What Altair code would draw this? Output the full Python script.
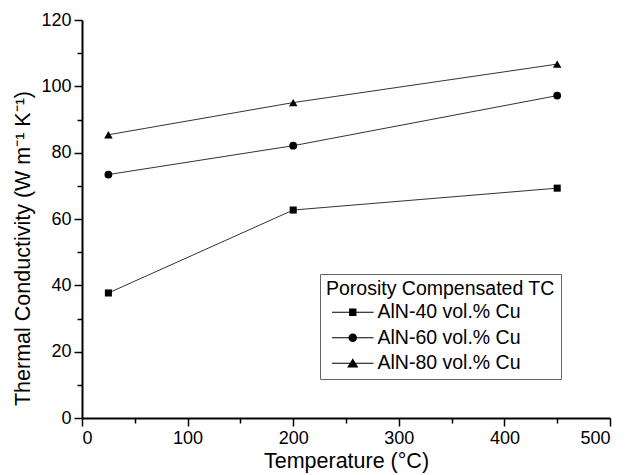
import altair as alt
import pandas as pd

temps = [25, 200, 450]
series = ["AlN-40 vol.% Cu", "AlN-60 vol.% Cu", "AlN-80 vol.% Cu"]
tc_40 = [37.7, 62.7, 69.3]
tc_60 = [73.4, 82.1, 97.2]
tc_80 = [85.4, 95.1, 106.7]

x_major = [0, 100, 200, 300, 400, 500]
x_minor = [50, 150, 250, 350, 450]
y_major = [0, 20, 40, 60, 80, 100, 120]
y_minor = [10, 30, 50, 70, 90, 110]

BAR = "M-2.6,-0.065H2.6V0.065H-2.6Z"
legend_paths = [
    BAR + "M-0.46,-0.46H0.46V0.46H-0.46Z",
    BAR + "M0.54,0A0.54,0.54,0,1,1,-0.54,0A0.54,0.54,0,1,1,0.54,0Z",
    BAR + "M0,-0.62L0.7,0.52H-0.7Z",
]

rows = []
for s, vals in zip(series, [tc_40, tc_60, tc_80]):
    for t, v in zip(temps, vals):
        rows.append({"T": t, "TC": v, "series": s})
df = pd.DataFrame(rows)

FONT = "Liberation Sans"
xscale = alt.Scale(domain=[0, 500], nice=False)
yscale = alt.Scale(domain=[0, 120], nice=False)

base = alt.Chart(df)

lines = base.mark_line(color="#333", strokeWidth=1).encode(
    x=alt.X("T:Q", scale=xscale, axis=alt.Axis(
        values=x_major, title="Temperature (°C)", orient="bottom",
        tickSize=8, labelPadding=3, titlePadding=3)),
    y=alt.Y("TC:Q", scale=yscale, axis=alt.Axis(
        values=y_major, title="Thermal Conductivity (W m⁻¹ K⁻¹)", orient="left",
        tickSize=8, labelPadding=3, titlePadding=6, titleY=228)),
    detail="series:N",
)

points = base.mark_point(filled=True, color="black", opacity=1).encode(
    x=alt.X("T:Q", scale=xscale, axis=alt.Axis(
        values=x_minor, orient="bottom", labels=False, domain=False,
        tickSize=5, title=None)),
    y=alt.Y("TC:Q", scale=yscale, axis=alt.Axis(
        values=y_minor, orient="left", labels=False, domain=False,
        tickSize=5, title=None)),
    shape=alt.Shape("series:N", scale=alt.Scale(domain=series, range=["square", "circle", "triangle-up"]), legend=None),
    size=alt.Size("series:N", scale=alt.Scale(domain=series, range=[50, 72, 110]), legend=None),
)

legend_layer = base.mark_point(filled=True, size=0, fill="black", stroke="black", strokeWidth=0).encode(
    x=alt.X("T:Q", scale=xscale, axis=None),
    y=alt.Y("TC:Q", scale=yscale, axis=None),
    shape=alt.Shape("series:N", scale=alt.Scale(domain=series, range=legend_paths),
                    legend=alt.Legend(
                        title="Porosity Compensated TC", orient="none",
                        legendX=238, legendY=254, strokeColor="#666", fillColor="white",
                        padding=6, titleFontSize=19.5, titleFontWeight="normal",
                        titleColor="black", titleFont=FONT, titlePadding=3, titleLimit=400,
                        labelFontSize=19.5, labelColor="black", labelFont=FONT, labelLimit=400,
                        symbolSize=256, symbolOffset=17, labelOffset=15, rowPadding=4.5,
                        symbolStrokeWidth=0, symbolFillColor="black",
                        symbolOpacity=1)),
)

chart = alt.layer(lines, points, legend_layer).resolve_scale(
    shape="independent", size="independent"
).resolve_axis(x="independent", y="independent").properties(
    width=528, height=398,
    autosize=alt.AutoSizeParams(type="none"),
    padding={"left": 74, "top": 12, "right": 15, "bottom": 57},
).configure_view(stroke=None).configure_axis(
    grid=False, domainColor="black", domainWidth=2, tickColor="black", tickWidth=1.5,
    labelColor="black", labelFontSize=18, labelFont=FONT,
    titleColor="black", titleFontSize=21.5, titleFont=FONT, titleFontWeight="normal",
)

chart.save("out.html", embed_options={"renderer": "svg", "actions": False})
